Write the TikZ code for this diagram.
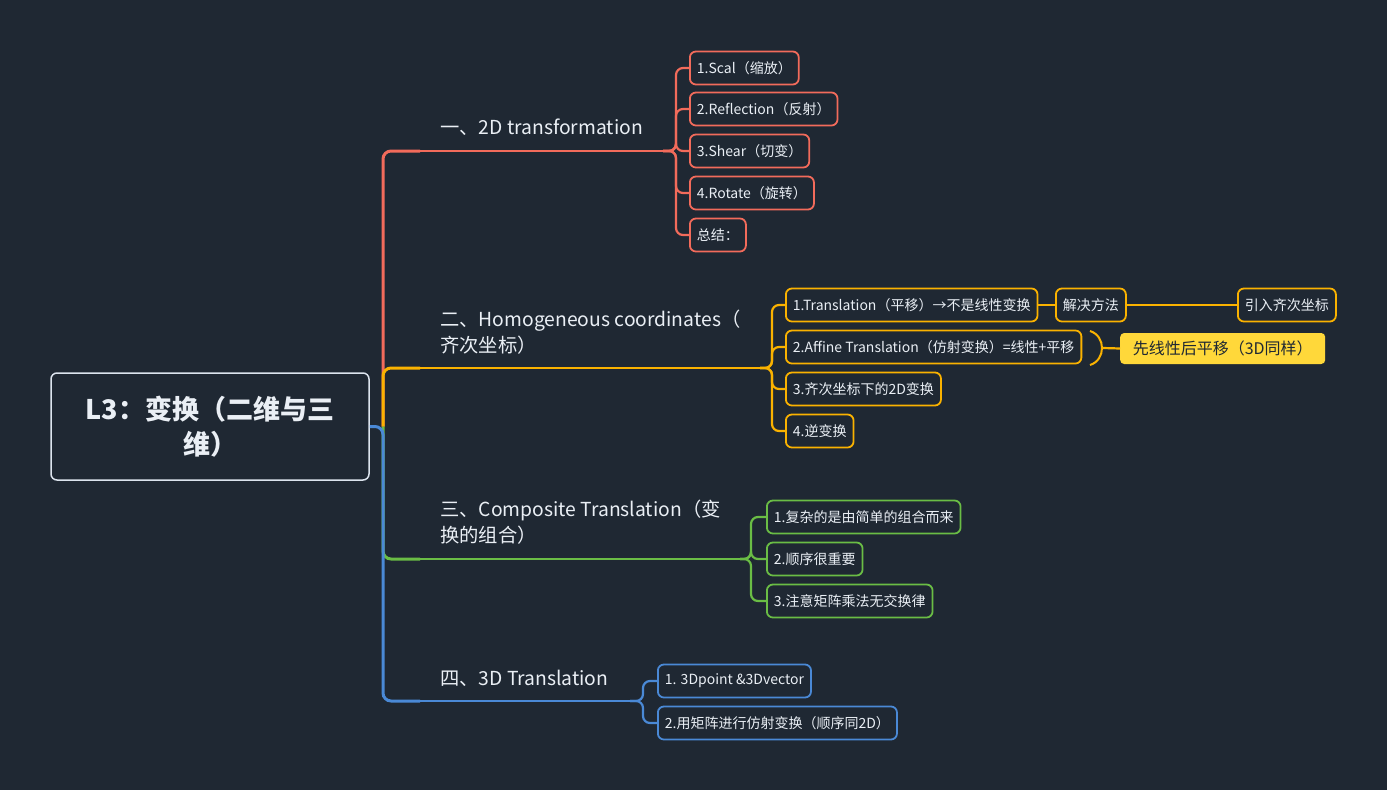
\documentclass[tikz,border=0pt]{standalone}
\usepackage{fontspec}
\setmainfont{Noto Sans CJK SC}
\definecolor{bg}{HTML}{1F2833}
\definecolor{txt}{HTML}{EAEFF5}
\definecolor{rootc}{HTML}{DCE4EE}
\definecolor{redc}{HTML}{F26B5B}
\definecolor{orac}{HTML}{FAB200}
\definecolor{grnc}{HTML}{6ABD45}
\definecolor{bluc}{HTML}{4A89D6}
\definecolor{callc}{HTML}{FFD83A}
\tikzset{
  root/.style={draw=rootc, line width=1.5pt, rounded corners=6pt, minimum width=318pt, minimum height=107pt,
    align=center, text=txt, font=\bfseries\fontsize{27}{35}\selectfont},
  branch/.style={anchor=west, align=left, inner sep=0pt, text=txt, font=\fontsize{19.3}{26}\selectfont},
  leaf/.style={draw=#1, line width=1.8pt, rounded corners=6pt, anchor=west, minimum height=33pt,
    inner xsep=7pt, text=txt, font=\fontsize{14}{16}\selectfont},
  trunk/.style={draw=#1, line width=3pt, rounded corners=8pt},
  twig/.style={draw=#1, line width=2.2pt, rounded corners=7pt},
}
\begin{document}
\begin{tikzpicture}[x=1pt,y=-1pt]
  \fill[bg] (0,0) rectangle (1387,790);
  \useasboundingbox (0,0) rectangle (1387,790);

  \node[root] (root) at (210,426.5) {L3：变换（二维与三\\维）};
  \coordinate (hub) at (383,426.5);

  \node[branch] (b1) at (440,127) {一、2D transformation};
  \node[branch] (b2) at (440,332.5) {二、Homogeneous coordinates（\\齐次坐标）};
  \node[branch] (b3) at (440,522) {三、Composite Translation（变\\换的组合）};
  \node[branch] (b4) at (440,678) {四、3D Translation};
  \coordinate (b1s) at (420,151); \coordinate (b1e) at (663,151);
  \coordinate (b2s) at (420,368); \coordinate (b2e) at (760,368);
  \coordinate (b3s) at (420,559); \coordinate (b3e) at (740,559);
  \coordinate (b4s) at (420,701); \coordinate (b4e) at (630,701);

  % 2D transformation
  \node[leaf=redc] (r1) at (689,68) {1.Scal（缩放）};
  \node[leaf=redc] (r2) at (689,109) {2.Reflection（反射）};
  \node[leaf=redc] (r3) at (689,151) {3.Shear（切变）};
  \node[leaf=redc] (r4) at (689,193) {4.Rotate（旋转）};
  \node[leaf=redc] (r5) at (689,235) {总结：};

  % homogeneous coordinates
  \node[leaf=orac] (o1) at (785,305) {1.Translation（平移）→不是线性变换};
  \node[leaf=orac] (o2) at (785,347) {2.Affine Translation（仿射变换）=线性+平移};
  \node[leaf=orac] (o3) at (785,389) {3.齐次坐标下的2D变换};
  \node[leaf=orac] (o4) at (785,431) {4.逆变换};
  \node[leaf=orac] (o5) at (1055,305) {解决方法};
  \node[leaf=orac] (o6) at (1237,305) {引入齐次坐标};
  \node[fill=callc, rounded corners=4pt, anchor=west, minimum width=205pt, minimum height=31pt,
    text=bg, font=\fontsize{16}{18}\selectfont] (call) at (1120,348.5) {先线性后平移（3D同样）};
  \coordinate (bt) at (1103,348);

  % composite
  \node[leaf=grnc] (g1) at (766,517) {1.复杂的是由简单的组合而来};
  \node[leaf=grnc] (g2) at (766,559) {2.顺序很重要};
  \node[leaf=grnc] (g3) at (766,601) {3.注意矩阵乘法无交换律};

  % 3D
  \node[leaf=bluc] (u1) at (657,681) {1. 3Dpoint \&3Dvector};
  \node[leaf=bluc] (u2) at (657,723) {2.用矩阵进行仿射变换（顺序同2D）};

  \draw[trunk=redc] (hub) |- (b1s);
  \draw[redc, line width=2pt] (b1s) -- (b1e);
  \foreach \i in {1,...,5} \draw[twig=redc] (b1e) -- ++(13,0) |- (r\i.west);

  \draw[trunk=orac] (hub) |- (b2s);
  \draw[orac, line width=2pt] (b2s) -- (b2e);
  \foreach \i in {1,...,4} \draw[twig=orac] (b2e) -- ++(12,0) |- (o\i.west);
  \draw[twig=orac] (o1.east) -- (o5.west);
  \draw[twig=orac] (o5.east) -- (o6.west);
  \draw[orac, line width=2pt] (1090,331) .. controls (1106,336) and (1106,360) .. (1090,365);
  \draw[twig=orac] (bt) -- (call.west);

  \draw[trunk=grnc] (hub) |- (b3s);
  \draw[grnc, line width=2pt] (b3s) -- (b3e);
  \foreach \i in {1,...,3} \draw[twig=grnc] (b3e) -- ++(11,0) |- (g\i.west);

  \draw[trunk=bluc] (root.east) -- (hub) |- (b4s);
  \draw[bluc, line width=2pt] (b4s) -- (b4e);
  \foreach \i in {1,2} \draw[twig=bluc] (b4e) -- ++(13,0) |- (u\i.west);
\end{tikzpicture}
\end{document}
